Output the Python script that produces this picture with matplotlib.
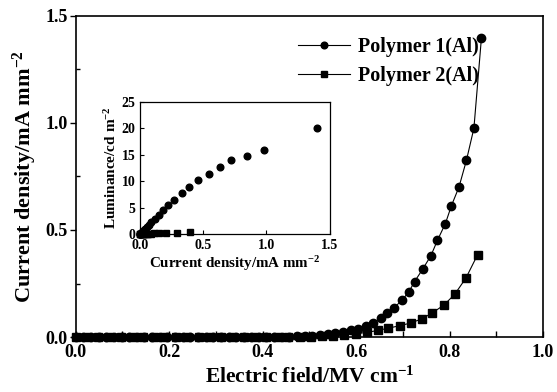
import matplotlib
matplotlib.use("Agg")
import matplotlib.pyplot as plt

# Main plot: current density vs electric field
p1_field = [0.000, 0.016, 0.033, 0.049, 0.065, 0.082, 0.098, 0.114, 0.131, 0.147,
            0.163, 0.180, 0.196, 0.212, 0.229, 0.245, 0.261, 0.278, 0.294, 0.310,
            0.327, 0.343, 0.359, 0.376, 0.392, 0.408, 0.425, 0.441, 0.457, 0.474,
            0.490, 0.506, 0.523, 0.539, 0.555, 0.572, 0.588, 0.604, 0.621, 0.637,
            0.653, 0.666, 0.681, 0.698, 0.713, 0.725, 0.742, 0.760, 0.774, 0.791,
            0.804, 0.820, 0.836, 0.852, 0.868]
p1_current = [0.0, 0.0, 0.0, 0.0, 0.0, 0.0, 0.0, 0.0, 0.0, 0.0,
              0.0, 0.0, 0.0, 0.0, 0.0, 0.0, 0.0, 0.0, 0.0, 0.0,
              0.0, 0.0, 0.0, 0.0, 0.0, 0.001, 0.001, 0.001, 0.002, 0.003,
              0.004, 0.006, 0.009, 0.013, 0.018, 0.024, 0.031, 0.040, 0.052, 0.068,
              0.089, 0.112, 0.137, 0.172, 0.212, 0.259, 0.316, 0.380, 0.452, 0.530,
              0.614, 0.700, 0.825, 0.975, 1.394]

p2_field = [0.000, 0.024, 0.048, 0.072, 0.096, 0.120, 0.143, 0.167, 0.191, 0.215,
            0.239, 0.263, 0.287, 0.311, 0.335, 0.359, 0.383, 0.407, 0.431, 0.455,
            0.479, 0.503, 0.527, 0.551, 0.575, 0.599, 0.623, 0.646, 0.669, 0.693,
            0.717, 0.740, 0.763, 0.788, 0.811, 0.835, 0.860]
p2_current = [0.0, 0.0, 0.0, 0.0, 0.0, 0.0, 0.0, 0.0, 0.0, 0.0,
              0.0, 0.0, 0.0, 0.0, 0.0, 0.0, 0.0, 0.0, 0.0, 0.001,
              0.001, 0.002, 0.004, 0.007, 0.011, 0.016, 0.022, 0.031, 0.042, 0.053,
              0.066, 0.085, 0.113, 0.150, 0.200, 0.276, 0.385]

# Inset: luminance vs current density
in1_current = [1.40, 0.98, 0.85, 0.72, 0.63, 0.545, 0.463, 0.39, 0.33, 0.27,
               0.223, 0.184, 0.152, 0.118, 0.092, 0.072, 0.055, 0.042, 0.032, 0.024,
               0.018, 0.013, 0.009, 0.006, 0.004, 0.002, 0.0]
in1_lum = [20.1, 15.8, 14.7, 14.0, 12.6, 11.4, 10.2, 9.0, 7.7, 6.5,
           5.6, 4.6, 3.7, 2.9, 2.3, 1.8, 1.4, 1.0, 0.8, 0.6,
           0.4, 0.3, 0.2, 0.1, 0.05, 0.0, 0.0]
in2_current = [0.395, 0.29, 0.21, 0.155, 0.115, 0.087, 0.068, 0.053, 0.042, 0.031,
               0.022, 0.016, 0.011, 0.007, 0.004, 0.002, 0.0]
in2_lum = [0.4, 0.35, 0.3, 0.25, 0.2, 0.15, 0.1, 0.08, 0.05, 0.03,
           0.02, 0.01, 0.0, 0.0, 0.0, 0.0, 0.0]

plt.rcParams['font.family'] = ['Liberation Serif', 'DejaVu Serif']
plt.rcParams['font.weight'] = 'bold'
plt.rcParams['mathtext.fontset'] = 'custom'
plt.rcParams['mathtext.rm'] = 'Liberation Serif:bold'
plt.rcParams['mathtext.bf'] = 'Liberation Serif:bold'
plt.rcParams['mathtext.default'] = 'rm'

fig = plt.figure(figsize=(5.57, 3.92), dpi=100)
ax = fig.add_axes([0.136, 0.14, 0.839, 0.82])

ax.plot(p1_field, p1_current, color='black', lw=0.8, marker='o', ms=6.0,
        label='Polymer 1(Al)', clip_on=False, zorder=3)
ax.plot(p2_field, p2_current, color='black', lw=0.8, marker='s', ms=5.3,
        label='Polymer 2(Al)', clip_on=False, zorder=3)

ax.set_xlim(0, 1.0)
ax.set_ylim(0, 1.5)
ax.set_xticks([0.0, 0.2, 0.4, 0.6, 0.8, 1.0])
ax.set_xticks([0.1, 0.3, 0.5, 0.7, 0.9], minor=True)
ax.set_yticks([0.0, 0.5, 1.0, 1.5])
ax.set_yticks([0.25, 0.75, 1.25], minor=True)
ax.tick_params(axis='x', which='both', direction='in', length=4, width=1, labelsize=13, pad=5)
ax.tick_params(axis='y', which='major', direction='out', length=4, width=1, labelsize=13, pad=2)
ax.tick_params(axis='y', which='minor', direction='in', length=3, width=1)
for s in ax.spines.values():
    s.set_linewidth(1.2)

ax.set_xlabel('Electric field/MV cm$^{-1}$', fontsize=15.5, fontweight='bold', labelpad=4)
ax.set_ylabel('Current density/mA mm$^{-2}$', fontsize=16, fontweight='bold', labelpad=4)

leg = ax.legend(loc='upper left', bbox_to_anchor=(0.437, 0.99), frameon=False,
                handlelength=2.6, handletextpad=0.35, labelspacing=0.45, markerscale=0.8,
                prop={'family': 'Liberation Serif', 'weight': 'bold', 'size': 14.5})

# Inset
ins = fig.add_axes([0.251, 0.402, 0.341, 0.339])
ins.plot(in1_current, in1_lum, linestyle='none', color='black', marker='o', ms=4.8, clip_on=False)
ins.plot(in2_current, in2_lum, linestyle='none', color='black', marker='s', ms=4.3, clip_on=False)
ins.set_xlim(0, 1.5)
ins.set_ylim(0, 25)
ins.set_xticks([0.0, 0.5, 1.0, 1.5])
ins.set_yticks([0, 5, 10, 15, 20, 25])
ins.tick_params(direction='in', length=3, width=0.8, labelsize=10, pad=3)
for s in ins.spines.values():
    s.set_linewidth(0.9)
ins.set_xlabel('Current density/mA mm$^{-2}$', fontsize=10.8, fontweight='bold', labelpad=2)
ins.set_ylabel('Luminance/cd m$^{-2}$', fontsize=11, fontweight='bold', labelpad=2)

fig.savefig('out.png', dpi=100)
